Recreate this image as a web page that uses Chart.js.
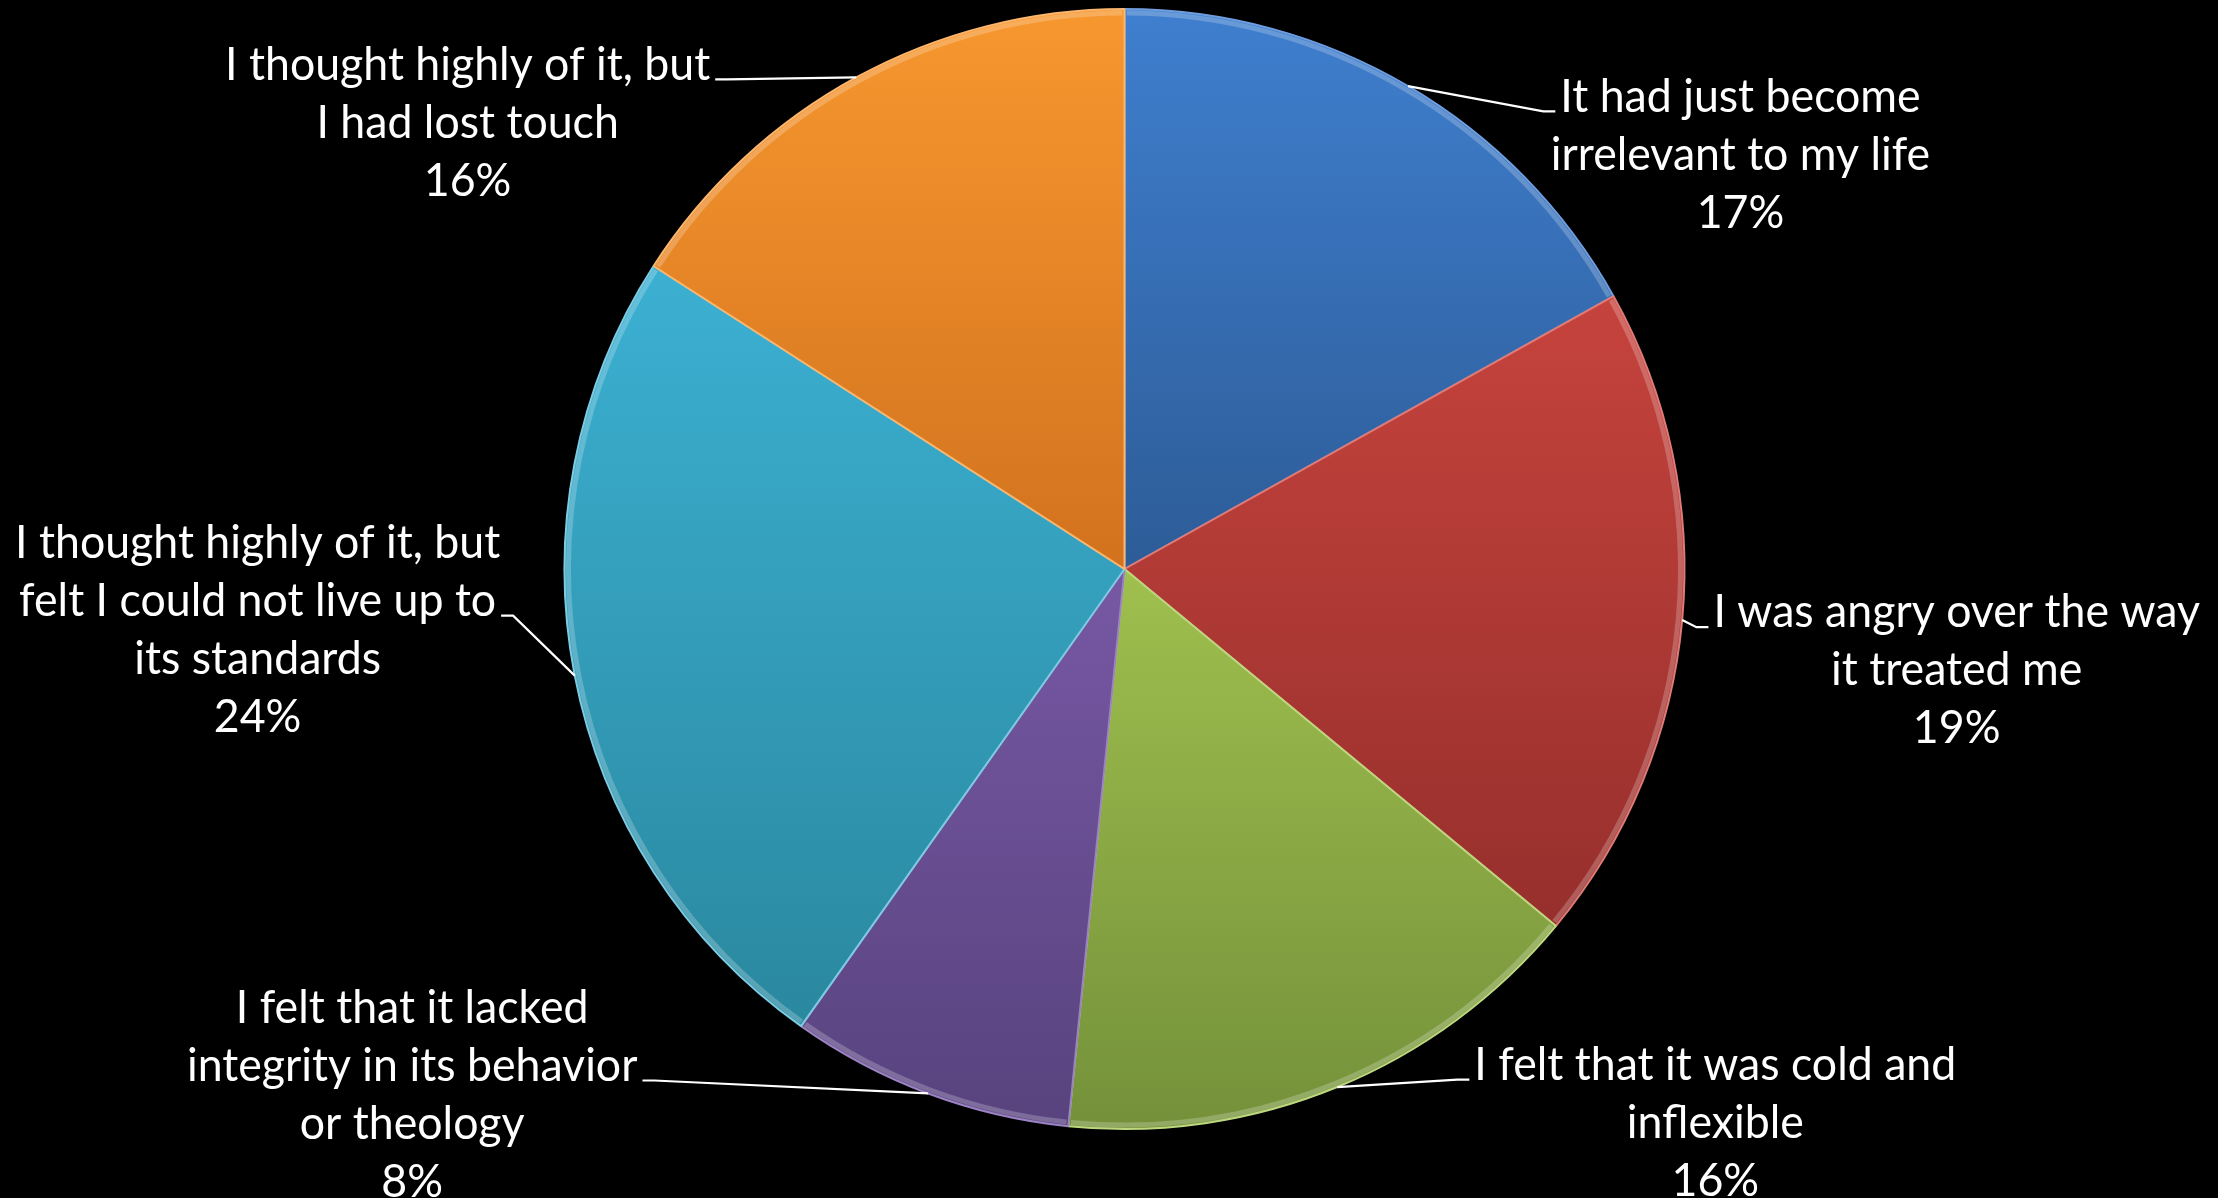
<!DOCTYPE html>
<html>
<head>
<meta charset="utf-8">
<script src="https://cdn.jsdelivr.net/npm/chart.js@4"></script>
<style>
  html, body { margin: 0; padding: 0; background: #000; }
  #wrap { width: 2218px; height: 1198px; position: relative; }
</style>
</head>
<body>
<div id="wrap"><canvas id="pie"></canvas></div>
<script>
// ---- data ----
const categories = [
  ['It had just become', 'irrelevant to my life'],
  ['I was angry over the way', 'it treated me'],
  ['I felt that it was cold and', 'inflexible'],
  ['I felt that it lacked', 'integrity in its behavior', 'or theology'],
  ['I thought highly of it, but', 'felt I could not live up to', 'its standards'],
  ['I thought highly of it, but', 'I had lost touch'],
];
const values = [16.9, 19.1, 15.6, 8.2, 24.3, 15.9];

// slice colours: light (top) / dark (bottom) / edge
const lightColors = ['#3f7fcf', '#c6433d', '#9fbf4e', '#7758a4', '#3cb0d2', '#f7972f'];
const darkColors = ['#2d5c97', '#962f2c', '#74913a', '#58437e', '#2a889f', '#d2721e'];
const edgeColors = ['#6f9ee0', '#e07a76', '#bdd77f', '#9b82c2', '#7ccbe3', '#fbb66d'];

// label placement, in units of the pie radius from its centre
const labelX = [1.100, 1.486, 1.055, -1.272, -1.548, -1.173];
const labelY = [-0.844, 0.077, 0.885, 0.783, -0.047, -0.901];
const attachLine = [0, 0, 0, 1, 1, 0];

const FONT_SIZE = 47;
const FONT = `${FONT_SIZE}px Lato, "Open Sans", sans-serif`;
const SQUEEZE = 0.95; // horizontal condensing to mimic Calibri widths
const LINE_H = 58;

const total = values.reduce((a, b) => a + b, 0);

function sliceGradient(context) {
  const chart = context.chart;
  const area = chart.chartArea;
  const i = context.dataIndex;
  if (!area) return lightColors[i];
  const cx = (area.left + area.right) / 2;
  const cy = (area.top + area.bottom) / 2;
  const r = Math.min(area.right - area.left, area.bottom - area.top) / 2;
  let start = -Math.PI / 2;
  for (let k = 0; k < i; k++) start += (values[k] / total) * Math.PI * 2;
  const end = start + (values[i] / total) * Math.PI * 2;
  let ymin = cy, ymax = cy;
  for (let s = 0; s <= 40; s++) {
    const a = start + ((end - start) * s) / 40;
    const y = cy + r * Math.sin(a);
    ymin = Math.min(ymin, y);
    ymax = Math.max(ymax, y);
  }
  const g = chart.ctx.createLinearGradient(0, ymin, 0, ymax);
  g.addColorStop(0, lightColors[i]);
  g.addColorStop(1, darkColors[i]);
  return g;
}

// rim highlight + labels with leader lines
const labelPlugin = {
  id: 'pieLabels',
  afterDatasetsDraw(chart) {
    const ctx = chart.ctx;
    const arcs = chart.getDatasetMeta(0).data;
    ctx.save();
    arcs.forEach((arc) => {
      const p = arc.getProps(['x', 'y', 'startAngle', 'endAngle', 'outerRadius'], true);
      ctx.beginPath();
      ctx.arc(p.x, p.y, p.outerRadius - 4, p.startAngle + 0.004, p.endAngle - 0.004);
      ctx.strokeStyle = 'rgba(255,255,255,0.22)';
      ctx.lineWidth = 5;
      ctx.stroke();
    });
    ctx.restore();
  },
  afterDraw(chart) {
    const ctx = chart.ctx;
    const arcs = chart.getDatasetMeta(0).data;
    ctx.save();
    ctx.font = FONT;
    ctx.fillStyle = '#ffffff';
    ctx.strokeStyle = '#ffffff';
    ctx.lineWidth = 2.2;
    ctx.textBaseline = 'middle';
    arcs.forEach((arc, i) => {
      const p = arc.getProps(['x', 'y', 'startAngle', 'endAngle', 'outerRadius'], true);
      const R = p.outerRadius;
      const lines = categories[i].concat([Math.round((values[i] / total) * 100) + '%']);
      const bx = p.x + labelX[i] * R;
      const by = p.y + labelY[i] * R;

      // text
      lines.forEach((t, j) => {
        ctx.save();
        ctx.translate(bx, by + j * LINE_H);
        ctx.scale(SQUEEZE, 1);
        ctx.textAlign = 'center';
        ctx.fillText(t, 0, 0);
        ctx.restore();
      });

      // leader line
      const mid = (p.startAngle + p.endAngle) / 2;
      const sx = p.x + Math.cos(mid) * R;
      const sy = p.y + Math.sin(mid) * R;
      const att = lines[attachLine[i]];
      const w = ctx.measureText(att).width * SQUEEZE;
      const toRight = bx > p.x;
      const edgeX = toRight ? bx - w / 2 - 5 : bx + w / 2 + 5;
      const ey = by + attachLine[i] * LINE_H + 15;
      const elbowX = toRight ? edgeX - 12 : edgeX + 12;
      ctx.beginPath();
      ctx.moveTo(sx, sy);
      ctx.lineTo(elbowX, ey);
      ctx.lineTo(edgeX, ey);
      ctx.stroke();
    });
    ctx.restore();
  },
};

new Chart(document.getElementById('pie'), {
  type: 'pie',
  data: {
    labels: categories.map((c) => c.join(' ')),
    datasets: [{
      data: values,
      backgroundColor: sliceGradient,
      borderColor: edgeColors,
      borderWidth: 2,
    }],
  },
  options: {
    responsive: true,
    maintainAspectRatio: false,
    animation: false,
    layout: { padding: { top: 8, bottom: 68, left: 31, right: 0 } },
    plugins: { legend: { display: false }, tooltip: { enabled: false } },
  },
  plugins: [labelPlugin],
});
</script>
</body>
</html>
